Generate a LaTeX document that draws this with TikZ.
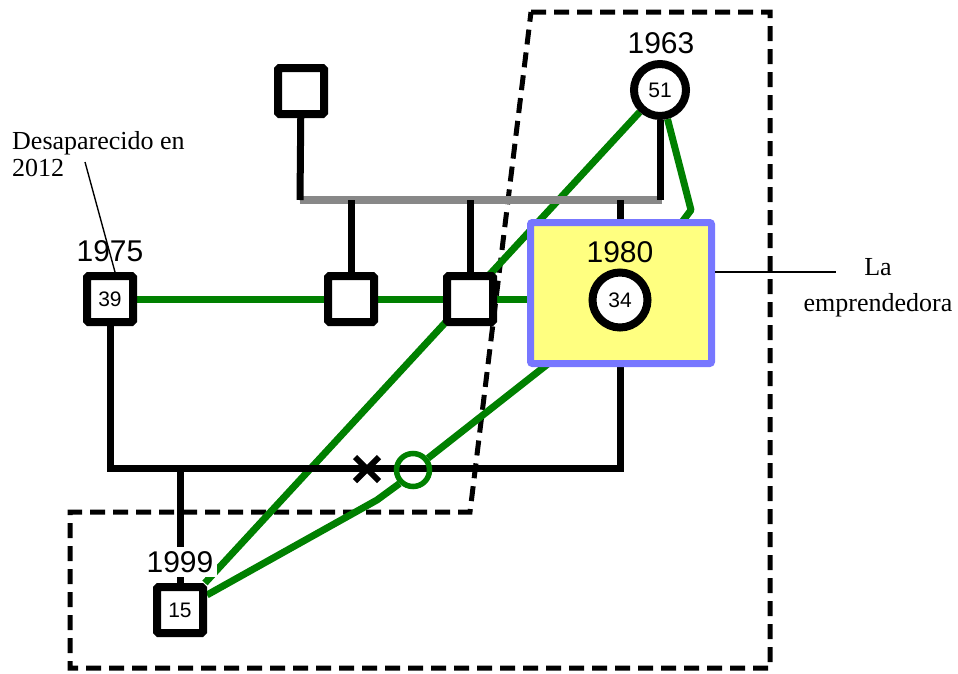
\documentclass[tikz,border=0pt]{standalone}
\usepackage{fontspec}
\setmainfont{Liberation Sans}
\newfontfamily\annfont{Liberation Serif}
\usetikzlibrary{shapes.misc,calc}
\pgfdeclarelayer{back}
\pgfdeclarelayer{mid}
\pgfsetlayers{back,mid,main}
\definecolor{gr}{HTML}{008000}
\definecolor{gy}{HTML}{888888}
\definecolor{bl}{HTML}{7777FF}
\definecolor{yl}{HTML}{FFFF80}
\begin{document}
\begin{tikzpicture}[x=1pt,y=-1pt,
  sq/.style={draw, line width=8pt, fill=white, minimum size=46pt, inner sep=0pt,
    rounded corners=1.5pt, font=\fontsize{21}{24}\selectfont},
  ci/.style={circle, draw, line width=8pt, fill=white, minimum size=52pt, inner sep=0pt,
    font=\fontsize{21}{24}\selectfont},
  yr/.style={font=\fontsize{30}{36}\selectfont, inner sep=1pt},
  blk/.style={line width=7pt, draw=black},
  gryline/.style={line width=7.5pt, draw=gy},
  grn/.style={line width=7pt, draw=gr, line join=round},
  dsh/.style={line width=5pt, draw=black, dash pattern=on 15pt off 8pt},
  ann/.style={font=\annfont\fontsize{26}{27}\selectfont, inner sep=0pt},
  thinl/.style={line width=1.4pt, draw=black}]
\useasboundingbox (0,0) rectangle (958,673);

% nodes
\node[sq] (top) at (301,91) {};
\node[ci] (c51) at (660,90) {51};
\node[yr] (y63) at (661,43) {1963};
\node[sq] (s39) at (110,299) {39};
\node[yr] (y75) at (110,251) {1975};
\node[sq] (s350) at (351,299) {};
\node[sq] (s470) at (470,299) {};
\node[draw=bl, fill=yl, line width=7pt, minimum width=181pt, minimum height=141pt,
  rounded corners=2pt, inner sep=0pt] (box) at (621,293) {};
\node[yr] (y80) at (620,252) {1980};
\node[ci, minimum size=55pt] (c34) at (620,300) {34};
\node[sq] (s15) at (180,610) {15};
\node[yr, fill=white, inner sep=4pt] (y99) at (180,562) {1999};
\node[circle, draw=gr, line width=5.5pt, minimum size=33pt, inner sep=0pt] (gc) at (413,470) {};
\node[cross out, draw=black, line width=6pt, minimum size=18pt, inner sep=0pt] (xm) at (367,469) {};

\coordinate (barL) at (300,200);
\coordinate (barR) at (662,200);
\coordinate (hl) at (0,468);
\coordinate (k1) at (691,210);
\coordinate (k2) at (676,230);
\coordinate (k3) at (558,356);
\coordinate (k4) at (377,500);

% dashed region
\begin{pgfonlayer}{back}
\draw[dsh] (531,12) -- (770,12) -- (770,668) -- (70,668) -- (70,512) -- (470,512) -- cycle;
\end{pgfonlayer}

\begin{pgfonlayer}{mid}
% green links
\draw[grn] (s39) -- (s39 -| box.west);
\draw[grn] (c51) -- (s15);
\draw[grn] (c51) -- (k1) -- (k2);
\draw[grn] (k3) -- (gc);
\draw[grn] (gc.south west) -- (k4) -- (s15);
% family lines
\draw[gryline] (barL) -- (barR);
\draw[blk] (top) -- (barL);
\draw[blk] (c51) -- (c51 |- barL);
\draw[blk] (s350 |- barL) -- (s350);
\draw[blk] (s470 |- barL) -- (s470);
\draw[blk] ([xshift=-1pt]box.north |- barL) -- ([xshift=-1pt]box.north);
\draw[blk] (s39) -- (s39 |- hl) -- ([xshift=-1pt]box.south |- hl) -- ([xshift=-1pt]box.south);
\draw[blk] (s15 |- hl) -- (s15);
\end{pgfonlayer}

% annotations
\node[ann, anchor=north west, align=left] (a1) at (12,131) {Desaparecido en\\2012};
\coordinate (a1p) at (85,162);
\draw[thinl] (a1p) -- ($(s39.north)+(5,0)$);
\node[ann, anchor=north, align=center, font=\annfont\fontsize{26}{36}\selectfont] (a2) at (878,258) {La\\emprendedora};
\coordinate (a2p) at (836,272);
\draw[thinl] (a2p -| box.east) -- (a2p);
\end{tikzpicture}
\end{document}
